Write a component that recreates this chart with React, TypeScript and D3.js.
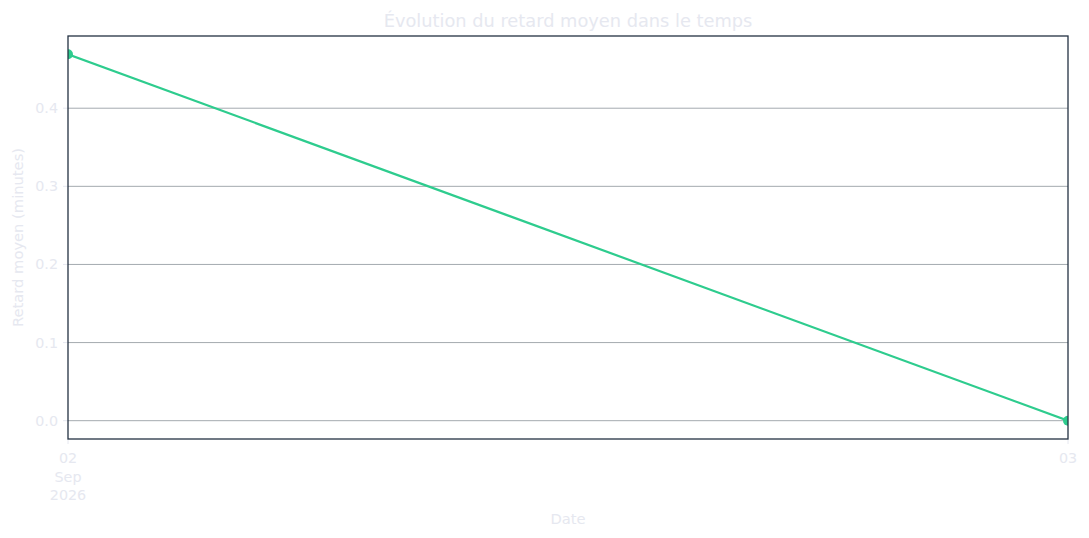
import * as d3 from 'd3'
import { useEffect, useRef } from 'react'

const WIDTH = 1089
const HEIGHT = 538
const LEFT = 68
const RIGHT = 1068
const TOP = 36
const BOTTOM = 439

const TEXT_COLOR = '#e6e8f0'
const FRAME_COLOR = '#243242'
const GRID_COLOR = '#9aa0a6'
const LINE_COLOR = '#2ecc8e'
const FONT = '"DejaVu Sans", sans-serif'
const TICK_SIZE = 14.3
const LABEL_SIZE = 14.7
const TITLE_SIZE = 17.8

const dates = ['2026-09-02', '2026-09-03']
const delays = [0.469, 0.0]
const yTicks = [0.0, 0.1, 0.2, 0.3, 0.4]
const xTickLabels = [['02', 'Sep', '2026'], ['03']]

const TITLE = 'Évolution du retard moyen dans le temps'
const X_LABEL = 'Date'
const Y_LABEL = 'Retard moyen (minutes)'

function drawChart(el: SVGSVGElement) {
  const svg = d3.select(el)
  svg.selectAll('*').remove()

  const parse = d3.timeParse('%Y-%m-%d')
  const points = dates.map((d, i) => ({ date: parse(d)!, value: delays[i] }))

  const x = d3.scaleTime(d3.extent(points, (d) => d.date) as [Date, Date], [LEFT, RIGHT])
  const maxV = d3.max(delays)!
  const minV = d3.min(delays)!
  const pad = (maxV - minV) * 0.05
  const y = d3.scaleLinear([minV - pad, maxV + pad], [BOTTOM, TOP])

  svg.append('rect').attr('width', WIDTH).attr('height', HEIGHT).attr('fill', '#ffffff')

  svg
    .append('defs')
    .append('clipPath')
    .attr('id', 'plot-clip')
    .append('rect')
    .attr('x', LEFT)
    .attr('y', TOP)
    .attr('width', RIGHT - LEFT)
    .attr('height', BOTTOM - TOP)

  // grid
  svg
    .append('g')
    .selectAll('line')
    .data(yTicks)
    .join('line')
    .attr('x1', LEFT)
    .attr('x2', RIGHT)
    .attr('y1', (d) => y(d))
    .attr('y2', (d) => y(d))
    .attr('stroke', GRID_COLOR)
    .attr('stroke-width', 0.9)

  // y ticks
  const yAxis = svg.append('g')
  yAxis
    .selectAll('line')
    .data(yTicks)
    .join('line')
    .attr('x1', LEFT - 5)
    .attr('x2', LEFT)
    .attr('y1', (d) => y(d))
    .attr('y2', (d) => y(d))
    .attr('stroke', TEXT_COLOR)
  yAxis
    .selectAll('text')
    .data(yTicks)
    .join('text')
    .attr('x', LEFT - 10)
    .attr('y', (d) => y(d))
    .attr('dy', '0.35em')
    .attr('text-anchor', 'end')
    .attr('fill', TEXT_COLOR)
    .attr('font-family', FONT)
    .attr('font-size', TICK_SIZE)
    .text((d) => d3.format('.1f')(d))

  // x ticks
  const xAxis = svg.append('g')
  points.forEach((p, i) => {
    const px = x(p.date)
    xAxis
      .append('line')
      .attr('x1', px)
      .attr('x2', px)
      .attr('y1', BOTTOM)
      .attr('y2', BOTTOM + 5)
      .attr('stroke', TEXT_COLOR)
    const t = xAxis
      .append('text')
      .attr('text-anchor', 'middle')
      .attr('fill', TEXT_COLOR)
      .attr('font-family', FONT)
      .attr('font-size', TICK_SIZE)
    xTickLabels[i].forEach((s, j) =>
      t
        .append('tspan')
        .attr('x', px)
        .attr('y', BOTTOM + 24 + j * 18.5)
        .text(s),
    )
  })

  // line and markers
  const line = d3
    .line<{ date: Date; value: number }>()
    .x((d) => x(d.date))
    .y((d) => y(d.value))
  const plot = svg.append('g').attr('clip-path', 'url(#plot-clip)')
  plot
    .append('path')
    .datum(points)
    .attr('d', line)
    .attr('fill', 'none')
    .attr('stroke', LINE_COLOR)
    .attr('stroke-width', 2.2)
  plot
    .selectAll('circle')
    .data(points)
    .join('circle')
    .attr('cx', (d) => x(d.date))
    .attr('cy', (d) => y(d.value))
    .attr('r', 5)
    .attr('fill', LINE_COLOR)

  // frame
  svg
    .append('rect')
    .attr('x', LEFT)
    .attr('y', TOP)
    .attr('width', RIGHT - LEFT)
    .attr('height', BOTTOM - TOP)
    .attr('fill', 'none')
    .attr('stroke', FRAME_COLOR)
    .attr('stroke-width', 1.3)

  // labels
  svg
    .append('text')
    .attr('x', (LEFT + RIGHT) / 2)
    .attr('y', 27)
    .attr('text-anchor', 'middle')
    .attr('fill', TEXT_COLOR)
    .attr('font-family', FONT)
    .attr('font-size', TITLE_SIZE)
    .text(TITLE)
  svg
    .append('text')
    .attr('x', (LEFT + RIGHT) / 2)
    .attr('y', 524)
    .attr('text-anchor', 'middle')
    .attr('fill', TEXT_COLOR)
    .attr('font-family', FONT)
    .attr('font-size', LABEL_SIZE)
    .text(X_LABEL)
  svg
    .append('text')
    .attr('transform', `translate(23,${(TOP + BOTTOM) / 2}) rotate(-90)`)
    .attr('text-anchor', 'middle')
    .attr('fill', TEXT_COLOR)
    .attr('font-family', FONT)
    .attr('font-size', LABEL_SIZE)
    .text(Y_LABEL)
}

export default function App() {
  const ref = useRef<SVGSVGElement>(null)
  useEffect(() => {
    document.body.style.margin = '0'
    if (ref.current) drawChart(ref.current)
  }, [])
  return <svg ref={ref} width={WIDTH} height={HEIGHT} style={{ display: 'block' }} />
}
